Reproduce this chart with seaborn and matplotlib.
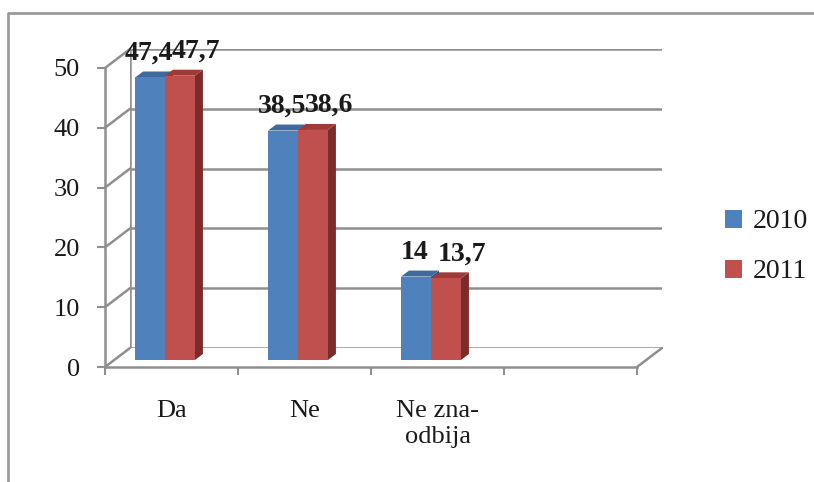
"""Pseudo-3D grouped bar chart: Da / Ne / Ne zna-odbija, 2010 vs 2011"""
import matplotlib.pyplot as plt
import numpy as np
import pandas as pd
import seaborn as sns
from matplotlib.lines import Line2D
from matplotlib.patches import Polygon
from matplotlib.transforms import IdentityTransform

# data
categories = ["Da", "Ne", "Ne zna-\nodbija", ""]
years = ["2010", "2011"]
values_2010 = [47.4, 38.5, 14]
values_2011 = [47.7, 38.6, 13.7]
y_ticks = [0, 10, 20, 30, 40, 50]

colors = ["#4F81BD", "#C0504D"]
side_colors = ["#2F5587", "#7B2C2A"]
top_colors = ["#3E6AA0", "#9E3B38"]
grid_col = "#8f8f8f"

df = pd.DataFrame({
    "kategorija": categories[:3] * 2,
    "postotak": values_2010 + values_2011,
    "godina": [years[0]] * 3 + [years[1]] * 3,
})

sns.set_style("white")
plt.rcParams["font.family"] = ["Liberation Serif", "DejaVu Serif"]

W, H = 814, 482
fig = plt.figure(figsize=(W / 100, H / 100), dpi=100)


def box(left, top, right, bottom):
    return [left / W, (H - bottom) / H, (right - left) / W, (bottom - top) / H]


# back wall, bar plane, front axis
back = fig.add_axes(box(130, 49, 662, 348), zorder=0)
ax = fig.add_axes(box(98.5, 62, 630.5, 360), zorder=1)
front = fig.add_axes(box(105, 68, 637, 367), zorder=2)

for a in (back, ax, front):
    a.set_xlim(-0.5, len(categories) - 0.5)
    a.set_ylim(0, 50)
    a.patch.set_alpha(0)
    for s in a.spines.values():
        s.set_visible(False)

# back wall grid
for v in y_ticks:
    back.axhline(v, color=grid_col, lw=1.8, zorder=0)
back.axvline(-0.5, color=grid_col, lw=1.8)
back.set_xticks([])
back.set_yticks([])

# bars
sns.barplot(data=df, x="kategorija", y="postotak", hue="godina",
            order=categories, hue_order=years, palette=colors,
            width=0.45, saturation=1, linewidth=0, ax=ax)
ax.set_xlim(-0.5, len(categories) - 0.5)
ax.set_xticks([])
ax.set_yticks([])
ax.set_xlabel("")
ax.set_ylabel("")

handles, labels = ax.get_legend_handles_labels()
ax.get_legend().remove()

# 3D faces of each bar, from the bar positions seaborn drew
fig.canvas.draw()
dx, dy = 8, 6
bars = [p for p in ax.patches if p.get_height() > 0]
n = len(categories[:3])
for i, p in enumerate(bars):
    k = i // n
    x0, y0 = ax.transData.transform((p.get_x(), 0))
    x1, y1 = ax.transData.transform((p.get_x() + p.get_width(), p.get_height()))
    side = Polygon([(x1, y0), (x1 + dx, y0 + dy), (x1 + dx, y1 + dy), (x1, y1)],
                   closed=True, facecolor=side_colors[k], edgecolor="none",
                   transform=IdentityTransform(), zorder=0.5)
    top = Polygon([(x0, y1), (x0 + dx, y1 + dy), (x1 + dx, y1 + dy), (x1, y1)],
                  closed=True, facecolor=top_colors[k], edgecolor="none",
                  transform=IdentityTransform(), zorder=0.5)
    ax.add_artist(side)
    ax.add_artist(top)
    p.set_zorder(0.6 + k * 0.1)

# value labels
all_vals = [values_2010, values_2011]
for i, p in enumerate(bars):
    k = i // n
    v = all_vals[k][i % n]
    txt = f"{v:g}".replace(".", ",")
    ax.annotate(txt, (p.get_x() + p.get_width() / 2, p.get_height()),
                xytext=(17 * k - 1, 12), textcoords="offset pixels",
                ha="center", va="bottom", fontsize=20, fontweight="bold",
                color="#1a1a1a", annotation_clip=False)

# front axis
front.spines["left"].set_visible(True)
front.spines["bottom"].set_visible(True)
for s in ("left", "bottom"):
    front.spines[s].set_color(grid_col)
    front.spines[s].set_linewidth(1.8)
front.set_yticks(y_ticks)
front.set_yticklabels([str(v) for v in y_ticks])
front.set_xticks(np.arange(len(categories)))
front.set_xticklabels(categories)
front.set_xticks(np.arange(len(categories) + 1) - 0.5, minor=True)
front.tick_params(axis="y", length=6, width=1.5, color=grid_col, pad=12,
                  labelsize=19, labelcolor="#1a1a1a", left=True)
front.tick_params(axis="x", which="major", length=0, pad=24,
                  labelsize=19, labelcolor="#1a1a1a")
front.tick_params(axis="x", which="minor", length=6, width=1.5,
                  color=grid_col, bottom=True)

# left wall and floor diagonals
for v in y_ticks:
    a = front.transData.transform((-0.5, v))
    b = back.transData.transform((-0.5, v))
    fig.add_artist(Line2D([a[0], b[0]], [a[1], b[1]], color=grid_col, lw=1.8,
                          transform=IdentityTransform(), zorder=0))
a = front.transData.transform((len(categories) - 0.5, 0))
b = back.transData.transform((len(categories) - 0.5, 0))
fig.add_artist(Line2D([a[0], b[0]], [a[1], b[1]], color=grid_col, lw=1.8,
                      transform=IdentityTransform(), zorder=0))

# legend
fig.legend(handles, labels, loc="center left",
           bbox_to_anchor=(700 / W, 1 - 247 / H), frameon=False,
           fontsize=20, handlelength=0.6, handleheight=0.6,
           handletextpad=0.4, labelspacing=0.9, labelcolor="#1a1a1a")

# chart border
fig.add_artist(Line2D([8 / W, 8 / W, 1], [0, 1 - 13 / H, 1 - 13 / H],
                      color="#9a9a9a", lw=2, transform=fig.transFigure))

fig.savefig("out.png", dpi=100)
